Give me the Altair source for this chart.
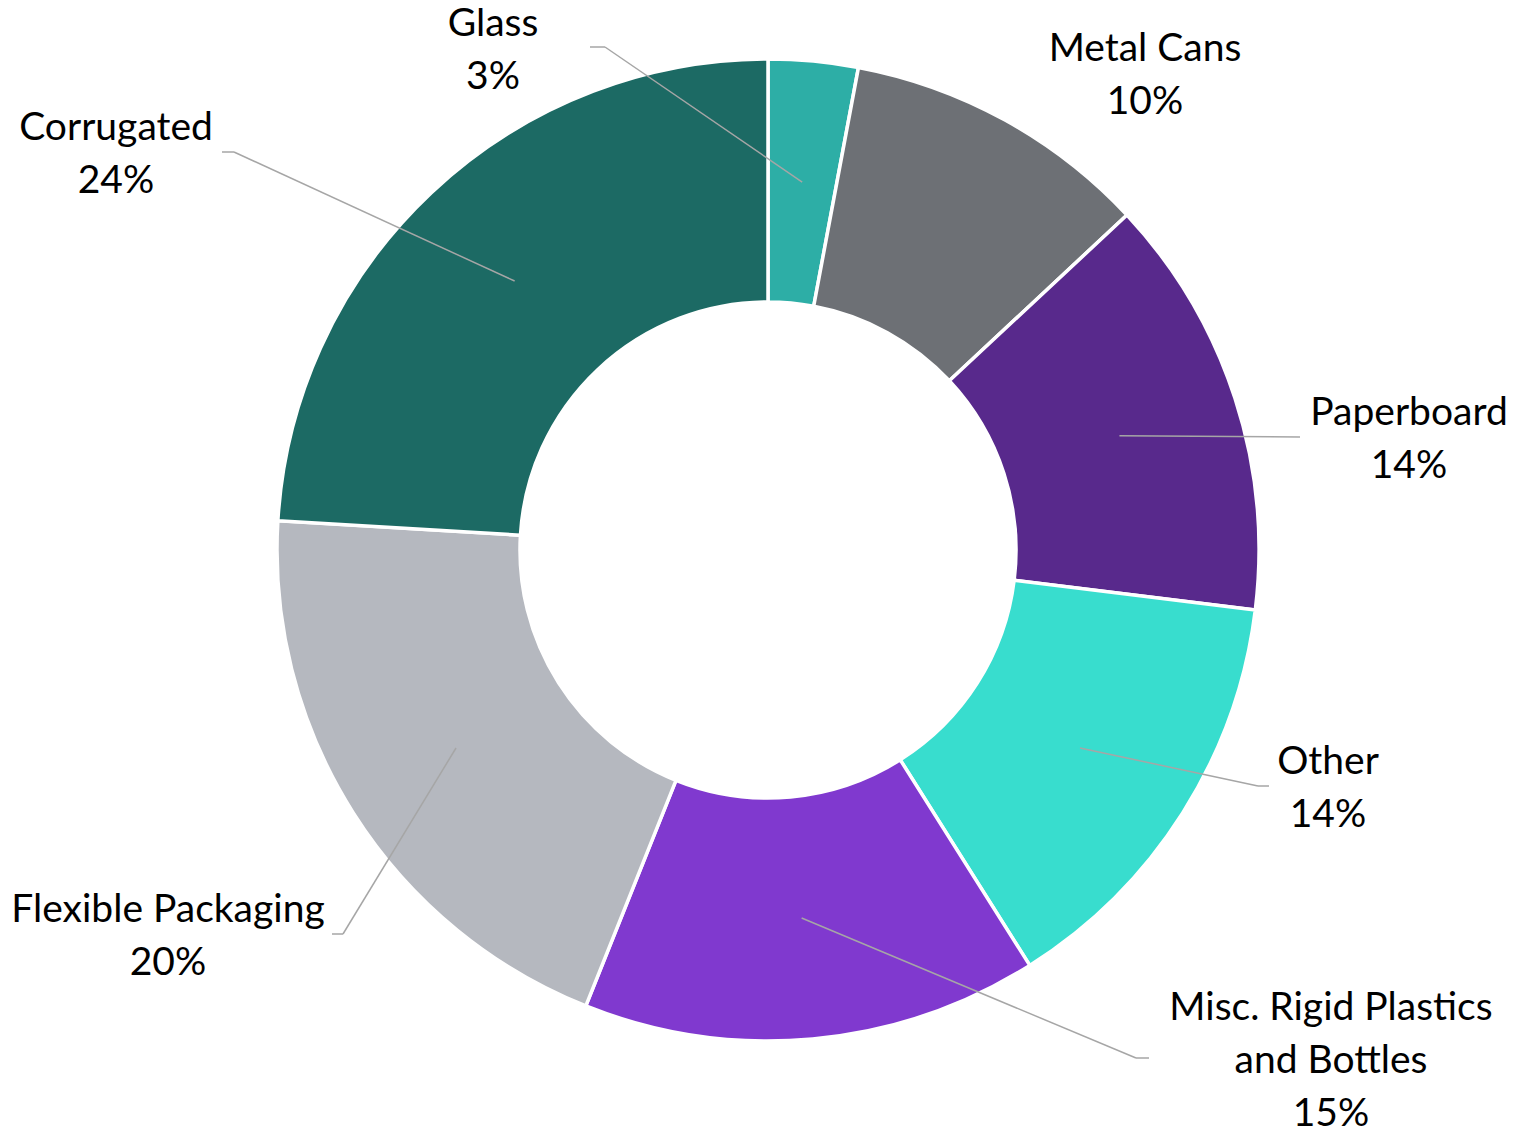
import math
import altair as alt
import pandas as pd

# ---------------- data ----------------
categories = ["Glass", "Metal Cans", "Paperboard", "Other",
              "Misc. Rigid Plastics and Bottles", "Flexible Packaging", "Corrugated"]
values = [2.95, 10.1, 13.9, 14.1, 15.0, 19.9, 24.05]
percent_labels = ["3%", "10%", "14%", "14%", "15%", "20%", "24%"]
name_lines = [["Glass"], ["Metal Cans"], ["Paperboard"], ["Other"],
              ["Misc. Rigid Plastics", "and Bottles"], ["Flexible Packaging"], ["Corrugated"]]
colors = ["#2DAEA6", "#6D7075", "#58298C", "#38DDCE", "#8039CF", "#B5B8BF", "#1C6A64"]

# ---------------- layout (page pixels) ----------------
W, H = 1503, 1122
CX, CY = 768, 550
R_OUT, R_IN = 491, 248
R_MID = (R_OUT + R_IN) / 2
LINE_STEP = 53
# baseline of the first text line of each label
label_anchor = {
    "Glass": (493, 36),
    "Metal Cans": (1145, 61),
    "Paperboard": (1409, 425),
    "Other": (1328, 774),
    "Misc. Rigid Plastics and Bottles": (1331, 1020),
    "Flexible Packaging": (168, 922),
    "Corrugated": (116, 140),
}
# leader line: elbow point and end point (None = no leader)
leader_path = {
    "Glass": [(605, 47), (590, 47)],
    "Metal Cans": None,
    "Paperboard": [(1300, 437)],
    "Other": [(1258, 786), (1269, 786)],
    "Misc. Rigid Plastics and Bottles": [(1136, 1058), (1149, 1058)],
    "Flexible Packaging": [(343, 934), (332, 934)],
    "Corrugated": [(234, 152), (222, 152)],
}

# ---------------- tables ----------------
total = sum(values)
arc_rows, rule_rows, text_rows = [], [], []
cum = 0.0
for cat, v, pct, lines in zip(categories, values, percent_labels, name_lines):
    start = cum / total * 100
    end = (cum + v) / total * 100
    cum += v
    arc_rows.append({"category": cat, "start": start, "end": end, "cx": CX, "cy": CY})
    mid = (start + end) / 2 / 100 * 2 * math.pi
    px, py = CX + R_MID * math.sin(mid), CY - R_MID * math.cos(mid)
    path = leader_path[cat]
    if path:
        pts = [(px, py)] + path
        for (x1, y1), (x2, y2) in zip(pts[:-1], pts[1:]):
            rule_rows.append({"x1": x1, "y1": y1, "x2": x2, "y2": y2})
    lx, ly = label_anchor[cat]
    for i, t in enumerate(lines + [pct]):
        text_rows.append({"text": t, "x": lx, "y": ly + i * LINE_STEP})

arcs_df = pd.DataFrame(arc_rows)
rules_df = pd.DataFrame(rule_rows)
text_df = pd.DataFrame(text_rows)

xs = alt.Scale(domain=[8, 8 + W], nice=False, zero=False)
ys = alt.Scale(domain=[8, 8 + H], nice=False, zero=False, reverse=True)

arcs = alt.Chart(arcs_df).mark_arc(
    radius=R_OUT, radius2=R_IN, stroke="white", strokeWidth=3.5
).encode(
    theta=alt.Theta("start:Q", scale=alt.Scale(domain=[0, 100], range=[0, 2 * math.pi])),
    theta2="end:Q",
    x=alt.X("cx:Q", scale=xs, axis=None),
    y=alt.Y("cy:Q", scale=ys, axis=None),
    color=alt.Color("category:N", scale=alt.Scale(domain=categories, range=colors), legend=None),
)

rules = alt.Chart(rules_df).mark_rule(color="#A6A6A6", strokeWidth=1.5).encode(
    x=alt.X("x1:Q", scale=xs, axis=None),
    y=alt.Y("y1:Q", scale=ys, axis=None),
    x2="x2:Q",
    y2="y2:Q",
)

texts = alt.Chart(text_df).mark_text(
    font="Lato", fontSize=39, color="#000000", align="center", baseline="alphabetic"
).encode(
    x=alt.X("x:Q", scale=xs, axis=None),
    y=alt.Y("y:Q", scale=ys, axis=None),
    text="text:N",
)

chart = alt.layer(arcs, rules, texts).properties(
    width=W, height=H, padding=0, autosize="none", background="white"
).configure_view(stroke=None)

chart.save("out.html", embed_options={"renderer": "svg", "actions": False})
